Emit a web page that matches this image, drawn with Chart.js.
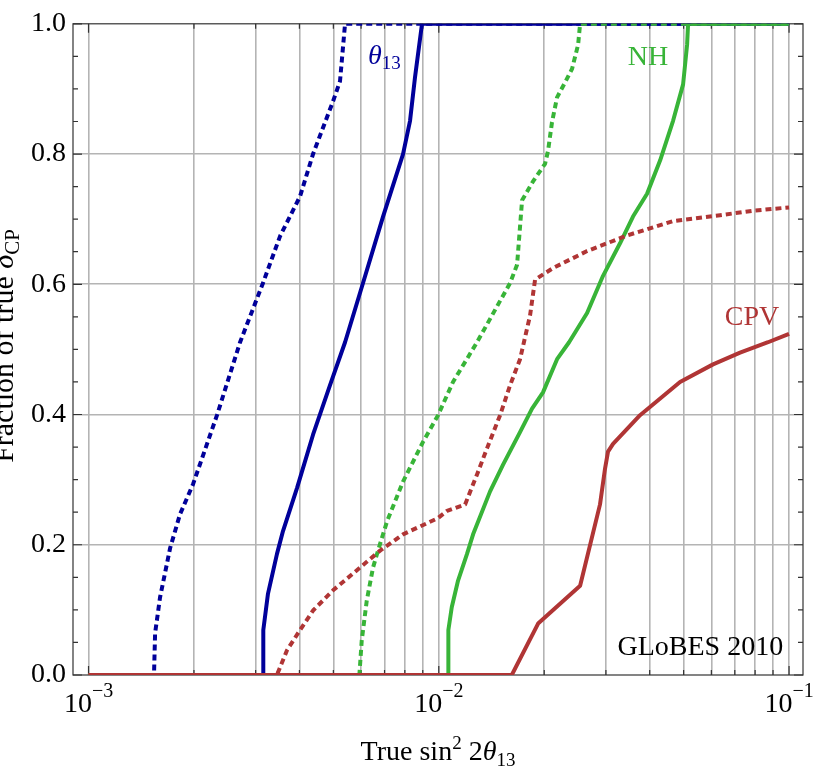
<!DOCTYPE html>
<html>
<head>
<meta charset="utf-8">
<script src="https://cdn.jsdelivr.net/npm/chart.js@4.4.0/dist/chart.umd.min.js"></script>
<style>
  html, body { margin: 0; padding: 0; background: #fff; }
</style>
</head>
<body>
<canvas id="fractionChart" width="814" height="769"></canvas>
<script>
// --- data (x = true sin^2 2theta13, y = fraction of true deltaCP) ---
const blueDashX = [0.001, 0.001538, 0.001549, 0.0016, 0.00171, 0.001825, 0.001988, 0.002327, 0.002708, 0.003149, 0.003523, 0.004017, 0.004375, 0.00499, 0.005224, 0.0054, 0.1];
const blueDashY = [0, 0, 0.064, 0.119, 0.195, 0.247, 0.293, 0.399, 0.511, 0.602, 0.674, 0.735, 0.8, 0.881, 0.912, 1, 1];

const blueSolidX = [0.001, 0.003155, 0.003155, 0.003254, 0.003452, 0.003591, 0.003937, 0.004375, 0.004892, 0.0054, 0.006077, 0.006932, 0.007905, 0.008278, 0.008553, 0.008956, 0.1];
const blueSolidY = [0, 0, 0.069, 0.125, 0.186, 0.221, 0.287, 0.369, 0.445, 0.511, 0.602, 0.704, 0.8, 0.851, 0.918, 1, 1];

const greenDashX = [0.001, 0.005933, 0.006026, 0.006227, 0.00649, 0.006707, 0.007117, 0.007905, 0.009016, 0.009952, 0.01098, 0.01286, 0.01598, 0.01673, 0.01729, 0.01858, 0.02011, 0.02051, 0.02105, 0.02176, 0.02294, 0.02402, 0.02499, 0.02532, 0.1];
const greenDashY = [0, 0, 0.053, 0.114, 0.165, 0.191, 0.236, 0.297, 0.358, 0.399, 0.45, 0.511, 0.602, 0.63, 0.729, 0.758, 0.785, 0.805, 0.849, 0.887, 0.91, 0.931, 0.968, 1, 1];

const greenSolidX = [0.001, 0.01065, 0.01065, 0.01089, 0.01135, 0.01204, 0.01253, 0.01401, 0.01526, 0.01706, 0.01846, 0.01984, 0.02176, 0.02355, 0.02651, 0.02944, 0.03292, 0.03585, 0.03932, 0.04283, 0.04665, 0.04983, 0.05116, 0.05149, 0.1];
const greenSolidY = [0, 0, 0.069, 0.104, 0.145, 0.186, 0.216, 0.282, 0.323, 0.373, 0.409, 0.434, 0.485, 0.511, 0.556, 0.613, 0.663, 0.704, 0.739, 0.79, 0.851, 0.907, 0.968, 1, 1];

const redDashX = [0.001, 0.00345, 0.003687, 0.004017, 0.004375, 0.00499, 0.00596, 0.006798, 0.007905, 0.009952, 0.010557, 0.01189, 0.01286, 0.01373, 0.01496, 0.01598, 0.01706, 0.01822, 0.01883, 0.0212, 0.02651, 0.03448, 0.04665, 0.06353, 0.07891, 0.1];
const redDashY = [0, 0, 0.038, 0.069, 0.099, 0.13, 0.165, 0.191, 0.216, 0.241, 0.252, 0.262, 0.308, 0.348, 0.399, 0.445, 0.485, 0.552, 0.607, 0.625, 0.651, 0.675, 0.697, 0.706, 0.713, 0.718];

const redSolidX = [0.001, 0.01616, 0.01921, 0.02532, 0.02886, 0.02983, 0.03042, 0.03144, 0.03755, 0.04884, 0.06067, 0.07246, 0.0871, 0.1];
const redSolidY = [0, 0, 0.079, 0.137, 0.262, 0.317, 0.343, 0.355, 0.399, 0.45, 0.477, 0.495, 0.511, 0.524];

// axis ticks
const xTicks = [0.001, 0.002, 0.003, 0.004, 0.005, 0.006, 0.007, 0.008, 0.009,
                0.01, 0.02, 0.03, 0.04, 0.05, 0.06, 0.07, 0.08, 0.09, 0.1];
const xLabelTicks = [0.001, 0.01, 0.1];
const xLabelExps = ['\u22123', '\u22122', '\u22121'];

const blue = '#00009a';
const green = '#38b438';
const red = '#b03535';
const serif = '"Liberation Serif", "Times New Roman", serif';

function pts(xs, ys) {
  return xs.map((x, i) => ({ x: x, y: ys[i] }));
}

// draws a run of text pieces: [text, size, style, dy]
function richText(ctx, parts, x, y, align) {
  let total = 0;
  const widths = parts.map(p => {
    ctx.font = (p[2] || '') + ' ' + p[1] + 'px ' + serif;
    const w = ctx.measureText(p[0]).width;
    total += w;
    return w;
  });
  let cx = align === 'center' ? x - total / 2 : (align === 'right' ? x - total : x);
  ctx.textAlign = 'left';
  ctx.textBaseline = 'alphabetic';
  parts.forEach((p, i) => {
    ctx.font = (p[2] || '') + ' ' + p[1] + 'px ' + serif;
    ctx.fillText(p[0], cx, y + (p[3] || 0));
    cx += widths[i];
  });
}

const framePlugin = {
  id: 'frame',
  beforeDatasetsDraw(chart) {
    const { ctx, chartArea: a, scales: { x, y } } = chart;
    ctx.save();
    ctx.strokeStyle = '#333';
    ctx.lineWidth = 1.2;
    ctx.strokeRect(a.left, a.top, a.right - a.left, a.bottom - a.top);
    ctx.beginPath();
    x.ticks.forEach(t => {
      const px = x.getPixelForValue(t.value);
      const len = xLabelTicks.includes(t.value) ? 9 : 5;
      ctx.moveTo(px, a.bottom); ctx.lineTo(px, a.bottom - len);
      ctx.moveTo(px, a.top); ctx.lineTo(px, a.top + len);
    });
    y.ticks.forEach(t => {
      const py = y.getPixelForValue(t.value);
      const len = Math.round(t.value * 20) % 4 === 0 ? 9 : 5;
      ctx.moveTo(a.left, py); ctx.lineTo(a.left + len, py);
      ctx.moveTo(a.right, py); ctx.lineTo(a.right - len, py);
    });
    ctx.stroke();
    ctx.restore();
  },
  afterDraw(chart) {
    const { ctx, chartArea: a, scales: { x, y } } = chart;
    ctx.save();
    ctx.fillStyle = '#000';
    // x tick labels 10^-n
    xLabelTicks.forEach((v, i) => {
      richText(ctx, [['10', 28], [xLabelExps[i], 20, '', -15]], x.getPixelForValue(v), 712, 'center');
    });
    // axis titles
    richText(ctx, [['True sin', 28], ['2', 19, '', -11], [' 2', 28], ['\u03b8', 28, 'italic'], ['13', 19, '', 6]],
      (a.left + a.right) / 2, 760, 'center');
    ctx.save();
    ctx.translate(12.5, 346);
    ctx.rotate(-Math.PI / 2);
    richText(ctx, [['Fraction of true ', 30], ['\u03b4', 30, 'italic'], ['CP', 21, '', 6]], 0, 0, 'center');
    ctx.restore();
    // curve labels
    ctx.fillStyle = blue;
    richText(ctx, [['\u03b8', 28, 'italic'], ['13', 19, '', 5]], x.getPixelForValue(0.00628), y.getPixelForValue(0.939), 'left');
    ctx.fillStyle = green;
    richText(ctx, [['NH', 28]], x.getPixelForValue(0.03958), y.getPixelForValue(0.936), 'center');
    ctx.fillStyle = red;
    richText(ctx, [['CPV', 28]], x.getPixelForValue(0.0784), y.getPixelForValue(0.537), 'center');
    ctx.fillStyle = '#000';
    richText(ctx, [['GLoBES 2010', 28]], x.getPixelForValue(0.0962), y.getPixelForValue(0.0305), 'right');
    ctx.restore();
  }
};

function line(xs, ys, color, dashed) {
  return {
    data: pts(xs, ys),
    borderColor: color,
    borderWidth: 4,
    borderDash: dashed ? [6, 4] : [],
    borderJoinStyle: 'round',
    pointRadius: 0,
    tension: 0,
    fill: false
  };
}

new Chart(document.getElementById('fractionChart'), {
  type: 'line',
  data: {
    datasets: [
      line(redSolidX, redSolidY, red, false),
      line(redDashX, redDashY, red, true),
      line(greenSolidX, greenSolidY, green, false),
      line(greenDashX, greenDashY, green, true),
      line(blueSolidX, blueSolidY, blue, false),
      line(blueDashX, blueDashY, blue, true)
    ]
  },
  options: {
    responsive: false,
    animation: false,
    layout: { padding: { top: 19, right: 11, left: 0, bottom: 0 } },
    plugins: { legend: { display: false }, tooltip: { enabled: false } },
    scales: {
      x: {
        type: 'logarithmic',
        min: 0.000903,
        max: 0.1096,
        afterBuildTicks: scale => { scale.ticks = xTicks.map(v => ({ value: v })); },
        afterFit: scale => { scale.height = 94; },
        border: { display: false },
        grid: { color: '#b4b4b4', lineWidth: 1.6, drawTicks: false },
        ticks: { display: false }
      },
      y: {
        min: 0,
        max: 1,
        afterFit: scale => { scale.width = 73; },
        border: { display: false },
        grid: {
          drawTicks: false,
          lineWidth: 1.6,
          color: c => {
            const r = Math.round(c.tick.value * 20);
            return (r % 4 === 0 && r > 0 && r < 20) ? '#b4b4b4' : 'rgba(0,0,0,0)';
          }
        },
        ticks: {
          stepSize: 0.05,
          autoSkip: false,
          padding: 7,
          color: '#000',
          font: { family: serif, size: 28 },
          callback: v => {
            const r = Math.round(v * 20);
            return r % 4 === 0 ? (r / 20).toFixed(1) : '';
          }
        }
      }
    }
  },
  plugins: [framePlugin]
});
</script>
</body>
</html>
